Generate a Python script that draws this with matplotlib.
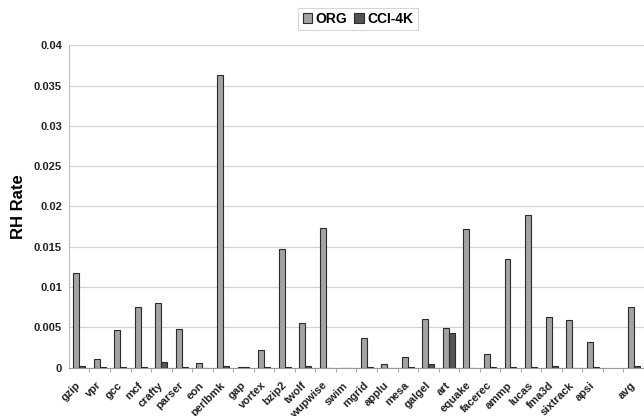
import matplotlib
matplotlib.use("Agg")
import matplotlib.pyplot as plt
import matplotlib.transforms as mtransforms
import numpy as np

benchmarks = ["gzip", "vpr", "gcc", "mcf", "crafty", "parser", "eon", "perlbmk",
              "gap", "vortex", "bzip2", "twolf", "wupwise", "swim", "mgrid", "applu",
              "mesa", "galgel", "art", "equake", "facerec", "ammp", "lucas", "fma3d",
              "sixtrack", "apsi", "avg"]
org = [0.0117, 0.00103, 0.00467, 0.00756, 0.0080, 0.00479, 0.00053, 0.0363,
       0.00012, 0.00218, 0.0147, 0.0055, 0.01733, 0.0, 0.00371, 0.0004,
       0.00128, 0.00603, 0.00495, 0.0172, 0.00165, 0.01345, 0.0190, 0.00624,
       0.00587, 0.00314, 0.00756]
cci_4k = [0.0002, 0.0001, 0.00005, 0.00008, 0.00073, 0.0001, 0.0, 0.0002,
          0.00008, 0.00005, 0.0001, 0.0002, 0.0, 0.0, 0.00008, 0.0,
          0.00005, 0.0004, 0.00426, 0.0, 0.00005, 0.00005, 0.00008, 0.00015,
          0.0, 0.00008, 0.0002]
yticks = [0, 0.005, 0.01, 0.015, 0.02, 0.025, 0.03, 0.035, 0.04]
ytick_labels = ["0", "0.005", "0.01", "0.015", "0.02", "0.025", "0.03", "0.035", "0.04"]

plt.rcParams['font.family'] = ['Liberation Sans', 'DejaVu Sans']

# one empty slot is left before the average
x = np.arange(len(benchmarks), dtype=float)
x[-1] += 1
w = 0.29

fig = plt.figure(figsize=(6.44, 4.16), dpi=100)
ax = fig.add_axes([0.107, 0.1163, 0.893, 0.7747])

ax.bar(x - w / 2, org, w, color="#a3a3a3", edgecolor="#2b2b2b", linewidth=0.8,
       label="ORG", zorder=3)
ax.bar(x + w / 2, cci_4k, w, color="#545454", edgecolor="#2b2b2b", linewidth=0.8,
       label="CCI-4K", zorder=3)

ax.set_xlim(-0.5, 27.5)
ax.set_ylim(0, 0.04)
ax.set_yticks(yticks)
ax.set_yticklabels(ytick_labels, fontsize=8, fontweight="bold", color="#222222")
ax.tick_params(axis="y", length=0, pad=5)
ax.yaxis.grid(True, color="#d4d4d4", linewidth=0.9, zorder=0)

ax.set_xticks(x)
ax.set_xticklabels(benchmarks, rotation=45, ha="right", rotation_mode="anchor",
                   fontsize=8, fontweight="bold", color="#222222")
ax.tick_params(axis="x", which="major", length=0, pad=9)
# nudge the slanted names a little to the left of their group
shift = mtransforms.ScaledTranslation(-0.035, 0, fig.dpi_scale_trans)
for lbl in ax.get_xticklabels():
    lbl.set_transform(lbl.get_transform() + shift)
ax.set_xticks(np.arange(0.5, 27.5, 1.0), minor=True)
ax.tick_params(axis="x", which="minor", length=3, color="#999999", direction="out")

for side in ["top", "right"]:
    ax.spines[side].set_visible(False)
ax.spines["left"].set_color("#bdbdbd")
ax.spines["bottom"].set_color("#999999")

ax.set_ylabel("RH Rate", fontsize=12, fontweight="bold", labelpad=6)

leg = fig.legend(loc="center", bbox_to_anchor=(0.556, 0.955), ncol=2,
                 prop={"size": 10, "weight": "bold"}, frameon=True, fancybox=False,
                 handlelength=0.7, handleheight=0.7, handletextpad=0.25,
                 columnspacing=0.5, borderpad=0.3)
leg.get_frame().set_edgecolor("#cccccc")
leg.get_frame().set_linewidth(0.8)

fig.savefig("out.png", dpi=100)
